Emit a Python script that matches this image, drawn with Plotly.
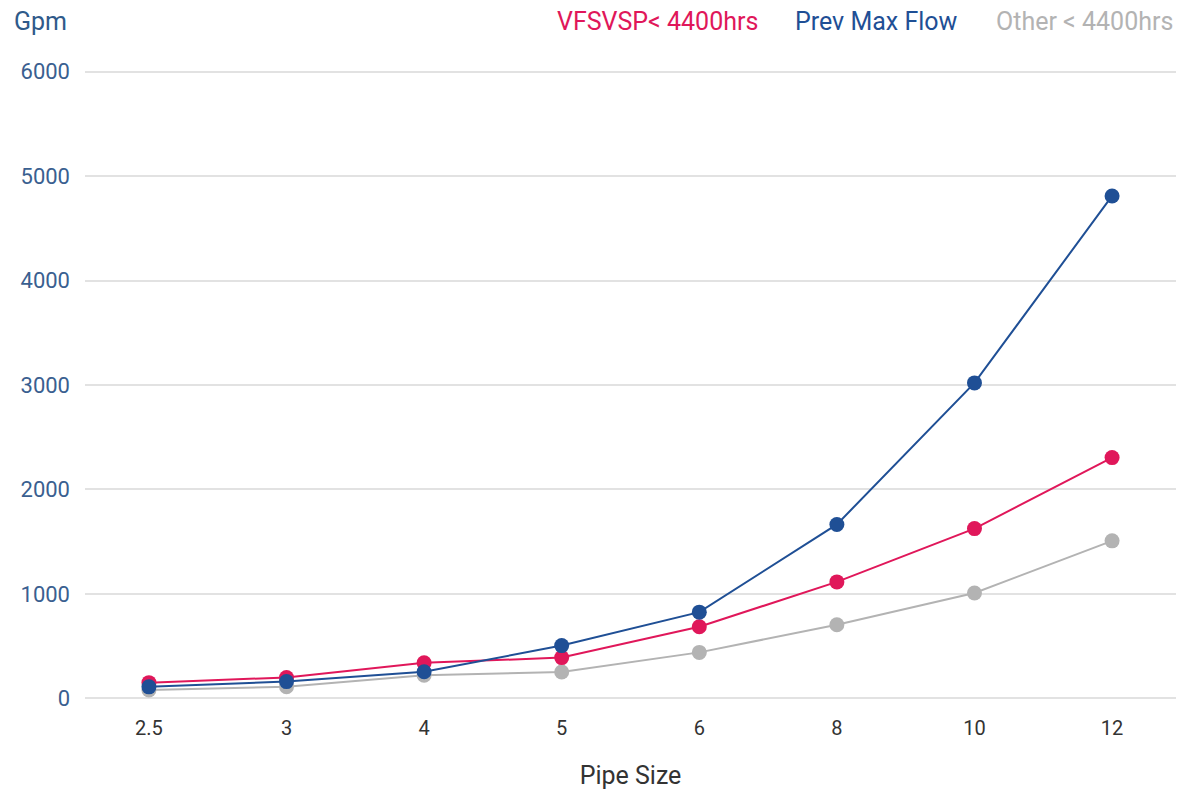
import plotly.graph_objects as go

pipe_sizes = ["2.5", "3", "4", "5", "6", "8", "10", "12"]
vfsvsp = [150, 200, 340, 390, 685, 1115, 1625, 2305]
prev_max = [110, 160, 255, 505, 825, 1665, 3020, 4810]
other = [80, 112, 222, 252, 440, 705, 1008, 1508]

series_names = ["VFSVSP< 4400hrs", "Prev Max Flow", "Other < 4400hrs"]
colors = ["#e0175a", "#1f4f95", "#b3b3b3"]

FONT = "Roboto, Arial, sans-serif"

L, R, T, B = 85, 6, 56, 82
W, H = 1182, 796
PW, PH = W - L - R, H - T - B


def px(x):
    return (x - L) / PW


def py(y):
    return 1 + (T - y) / PH


fig = go.Figure()
for vals, name, col in [(other, series_names[2], colors[2]),
                        (vfsvsp, series_names[0], colors[0]),
                        (prev_max, series_names[1], colors[1])]:
    fig.add_trace(go.Scatter(
        x=pipe_sizes, y=vals, name=name, mode="lines+markers",
        line=dict(color=col, width=2),
        marker=dict(color=col, size=15),
        cliponaxis=False, showlegend=False))

legend_x = [657, 876, 1084]
for name, col, lx in zip(series_names, colors, legend_x):
    fig.add_annotation(text=name, x=px(lx), y=py(22), xref="paper", yref="paper",
                       xanchor="center", yanchor="middle", showarrow=False,
                       font=dict(family=FONT, size=25, color=col))

fig.add_annotation(text="Gpm", x=px(40), y=py(22), xref="paper", yref="paper",
                   xanchor="center", yanchor="middle", showarrow=False,
                   font=dict(family=FONT, size=25, color="#2f5a8a"))

fig.update_layout(
    width=W, height=H,
    margin=dict(l=L, r=R, t=T, b=B),
    paper_bgcolor="white", plot_bgcolor="white",
    font=dict(family=FONT),
    xaxis=dict(
        type="category", showgrid=False, showline=False, zeroline=False,
        tickfont=dict(family=FONT, size=20, color="#333333"),
        ticks="", ticklen=0,
        title=dict(text="Pipe Size", font=dict(family=FONT, size=25, color="#333333"), standoff=27),
    ),
    yaxis=dict(
        range=[-150, 6150], tickvals=[0, 1000, 2000, 3000, 4000, 5000, 6000],
        showgrid=True, gridcolor="#e2e2e2", gridwidth=2, zeroline=False,
        tickfont=dict(family=FONT, size=22, color="#3a5f90"),
        ticks="", ticklabelstandoff=14,
    ),
)

fig.write_html("out.html")
